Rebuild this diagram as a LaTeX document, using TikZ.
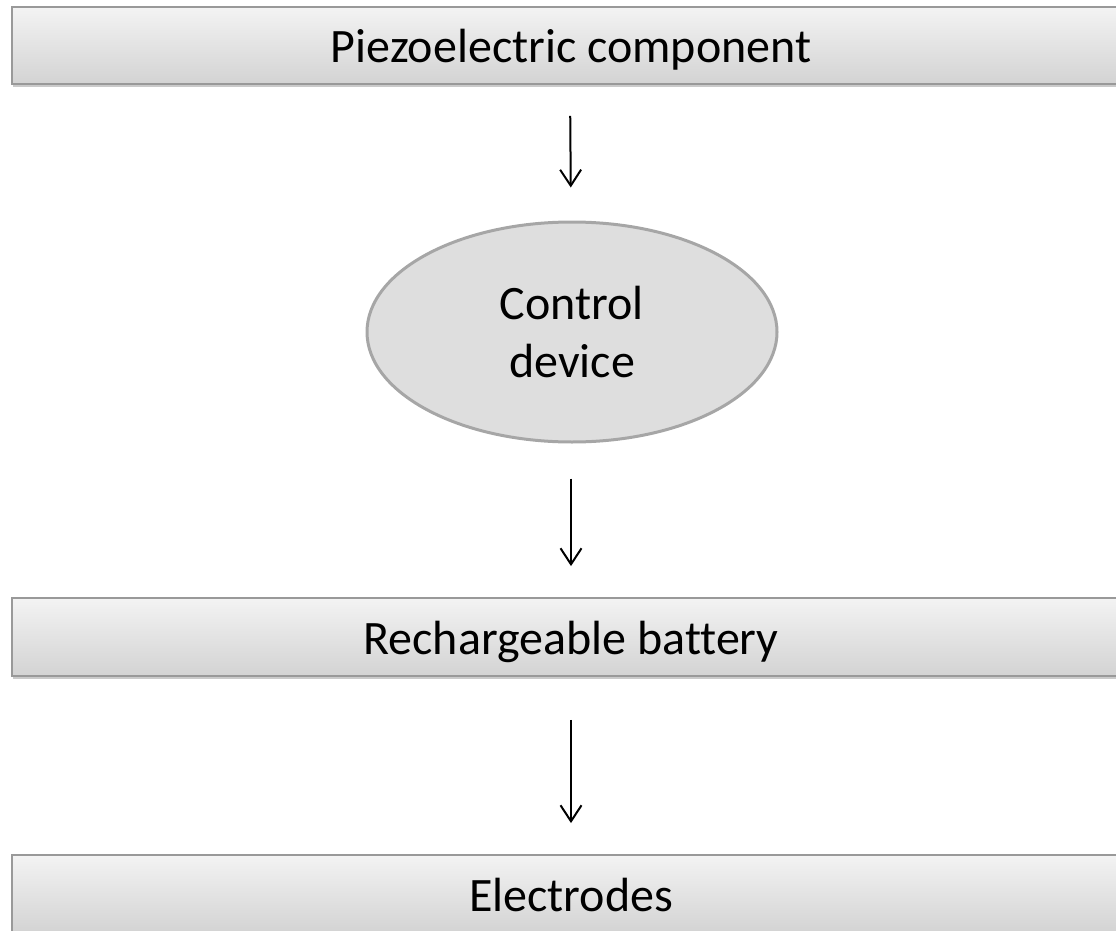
\documentclass[tikz,border=0pt]{standalone}
\usepackage{fontspec}
\setmainfont[Ligatures=NoCommon]{Carlito}
\usetikzlibrary{shapes.geometric,arrows.meta,shadows}
\definecolor{boxline}{HTML}{999999}
\definecolor{boxtop}{HTML}{F3F3F3}
\definecolor{boxbot}{HTML}{D3D3D3}
\definecolor{ellfill}{HTML}{DEDEDE}
\definecolor{ellline}{HTML}{A6A6A6}
\tikzset{
  barbox/.style={draw=boxline, line width=1.8pt, top color=boxtop, bottom color=boxbot,
    minimum width=1118pt, inner sep=0pt, text height=35pt, text depth=1pt,
    drop shadow={shadow xshift=0.5pt, shadow yshift=-3pt, opacity=0.35, fill=black!60},
    font=\fontsize{48}{58}\selectfont},
  ellbox/.style={ellipse, draw=ellline, line width=3pt, fill=ellfill,
    minimum width=410pt, minimum height=220pt, inner sep=0pt, align=center,
    font=\fontsize{48}{58}\selectfont},
  flow/.style={line width=2pt, -{Straight Barb[length=16pt,width=21pt,line width=2pt]}}
}
\begin{document}
\begin{tikzpicture}[x=1pt,y=-1pt]
\useasboundingbox (0,0) rectangle (1116,931);
\clip (0,0) rectangle (1116,931);
\node[barbox, minimum height=77pt] (piezo) at (571,45.5) {Piezoelectric component};
\node[ellbox] (ctrl) at (572,332) {Control\\device};
\node[barbox, minimum height=78pt] (batt) at (571,637) {Rechargeable battery};
\node[barbox, minimum height=78pt] (elec) at (571,894) {Electrodes};
\draw[flow, shorten <=31pt, shorten >=33pt] ([xshift=-1pt]piezo.south) -- ([xshift=-1pt]ctrl.north);
\draw[flow, shorten <=35pt, shorten >=31pt] ([xshift=-1pt]ctrl.south) -- (batt.north);
\draw[flow, shorten <=43pt, shorten >=31pt] (batt.south) -- (elec.north);
\end{tikzpicture}
\end{document}
